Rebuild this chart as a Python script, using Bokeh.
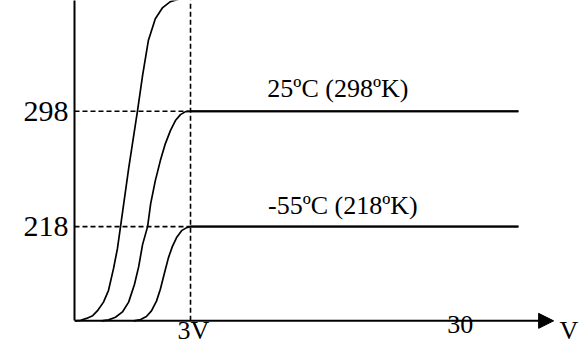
from bokeh.plotting import figure
from bokeh.models import Range1d, FixedTicker, Arrow, NormalHead
from bokeh.core.properties import value
from bokeh.embed import file_html
from bokeh.resources import INLINE

# ---- data (schematic units) ----
baseline = 152.6                         # foot of the curves / x axis level
y_top = 374.9
levels = [298, 218]                      # saturation levels (K) with dashed guides
x_sat = 3                                # "3V"
x_end = 11.48                            # end of the flat saturation lines
x_arrow = 12.39                          # tip of the x-axis arrow
x_ticks = [3, 9.9, 12.71]
x_tick_labels = ["3V", "30", "V"]
y_ticks = [218, 298]

# curve 1 (highest temperature, runs off the top)
c1_x = [0, 0.16, 0.31, 0.47, 0.59, 0.75, 0.88, 1.01, 1.11, 1.19, 1.40, 1.63, 1.76, 1.91, 2.09, 2.28, 2.48, 2.74, 3, 11.48]
c1_y = [152.6, 153.0, 154.3, 156.2, 159.5, 165.6, 173.8, 189, 202.7, 218, 258.2, 298.5, 322.8, 347.1, 362.3, 370, 374.1, 376.2, 376.9, 377]
# curve 2 (25 C, 298 K)
c2_x = [0.70, 0.88, 1.06, 1.24, 1.40, 1.55, 1.66, 1.76, 1.89, 1.97, 2.09, 2.22, 2.35, 2.48, 2.61, 2.74, 2.87, 3, 11.48]
c2_y = [152.6, 153.3, 155.1, 158.8, 165.6, 177.8, 190.2, 205.5, 218, 234, 249.9, 263.8, 275.6, 284.6, 291.6, 295.7, 297.8, 298, 298]
# curve 3 (-55 C, 218 K)
c3_x = [1.53, 1.71, 1.86, 1.99, 2.12, 2.22, 2.33, 2.43, 2.53, 2.64, 2.77, 2.90, 3, 11.48]
c3_y = [152.6, 153.5, 155.6, 159.5, 166.3, 174.5, 186.1, 196.5, 204.1, 210.4, 215.2, 217.3, 218, 218]

annot_text = ["25ºC (298ºK)", "-55ºC (218ºK)"]
annot_x = [6.81, 6.94]
annot_y = [313.8, 232.6]

SERIF = "Liberation Serif"

p = figure(width=580, height=345, output_backend="svg", toolbar_location=None,
           x_range=Range1d(0, 13.085), y_range=Range1d(135.5, y_top),
           min_border_left=74, min_border_right=0, min_border_top=0, min_border_bottom=0)
p.grid.visible = False
p.outline_line_color = None
p.background_fill_color = "white"
p.border_fill_color = "white"
p.xaxis.visible = False

# y axis (library axis, limited to the drawn part)
ya = p.yaxis[0]
ya.ticker = FixedTicker(ticks=y_ticks)
ya.bounds = (baseline, y_top)
ya.axis_line_width = 2
ya.axis_line_color = "black"
ya.major_tick_line_color = None
ya.minor_tick_line_color = None
ya.major_tick_out = 0
ya.major_tick_in = 0
ya.major_label_text_font = SERIF
ya.major_label_text_color = "black"
ya.major_label_text_font_size = "30px"
ya.major_label_standoff = 6

# dashed guides
for lv in levels:
    p.line([0, x_sat], [lv, lv], line_color="black", line_width=1.6, line_dash="5 3")
p.line([x_sat, x_sat], [baseline, y_top], line_color="black", line_width=1.6, line_dash="5 3")

# curves
for cx, cy in ((c1_x, c1_y), (c2_x, c2_y), (c3_x, c3_y)):
    p.line(cx, cy, line_color="black", line_width=1.7)
# thicker flat parts
for lv in levels:
    p.line([x_sat, x_end], [lv, lv], line_color="black", line_width=2)

# x axis drawn as an arrow at the baseline
p.add_layout(Arrow(end=NormalHead(size=15, fill_color="black", line_color="black"),
                   x_start=0, y_start=baseline, x_end=x_arrow, y_end=baseline,
                   line_width=2, line_color="black"))

# x tick labels
p.text(x=x_ticks, y=[baseline] * len(x_ticks), text=x_tick_labels,
       text_font=value(SERIF), text_font_size="26px", text_align="center",
       text_baseline="top", text_color="black", x_offset=3, y_offset=-5)

# annotations
p.text(x=annot_x, y=annot_y, text=annot_text,
       text_font=value(SERIF), text_font_size="26px", text_align="center",
       text_baseline="alphabetic", text_color="black")

open("out.html", "w").write(file_html(p, INLINE))
